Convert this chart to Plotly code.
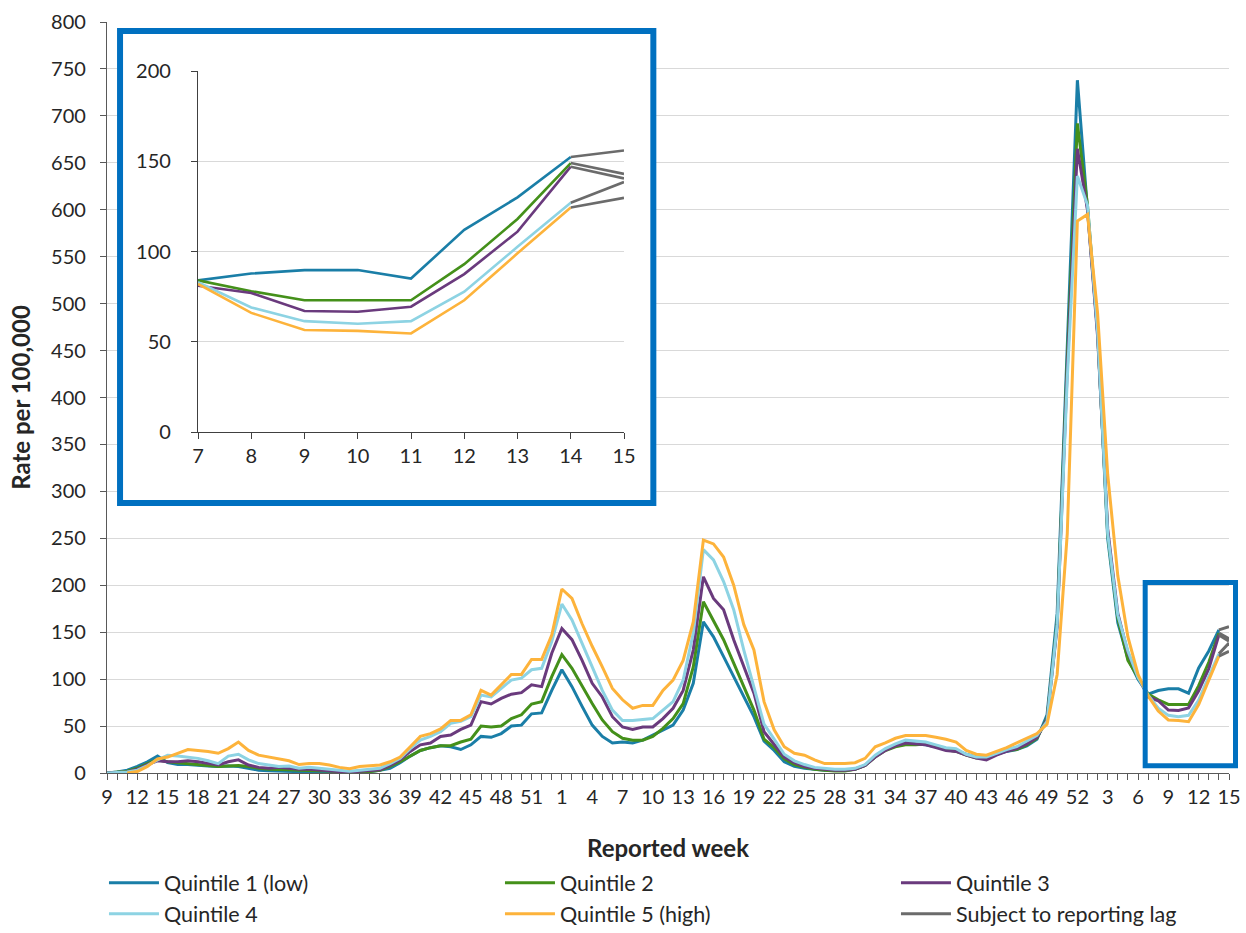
import plotly.graph_objects as go

# ---- categories: reported weeks (2020 wk9-53, 2021 wk1-52, 2022 wk1-15)
weeks = list(range(9, 54)) + list(range(1, 53)) + list(range(1, 16))

# ---- series (rate per 100,000)
q1 = [0, 1, 3, 7, 12, 18, 11, 9, 9, 8,
      7.5, 7, 7.5, 7, 5, 3, 2.5, 2, 2, 1.5,
      1, 1, 0.5, 0, 0.5, 1, 1.5, 3, 5, 11,
      18, 24, 27, 29, 28, 25, 30, 39, 38, 42,
      50, 51, 63, 64, 88, 110, 92, 71, 51, 39,
      32, 33, 32, 35, 40.5, 46, 51, 67, 95.5, 161,
      145, 124, 103, 81, 60, 34, 24, 12, 7, 5,
      4, 3, 3, 3, 4, 8, 18, 25, 29, 33,
      31, 30, 28, 25, 24, 20, 17, 16, 20, 23,
      25, 29, 36, 62, 170, 460, 738, 600, 470, 250,
      160, 122, 100, 84, 87.8, 89.7, 89.7, 85, 112, 130,
      152.4, None]
q2 = [0, 1, 2, 5, 10, 14, 12, 11, 10, 9,
      8, 7, 7.5, 8, 7, 5, 4, 4, 3.5, 3,
      3, 2.5, 2, 1, 0.7, 1, 1.5, 3, 7, 12,
      18, 24, 27, 29, 29, 33, 36, 50, 49, 50,
      58, 62, 73.5, 76, 102.6, 126, 111.5, 92, 74, 56.5,
      44, 37, 35, 35, 39, 47.6, 58, 74, 113, 182.5,
      163, 142, 117, 92, 67, 36, 27, 15, 9, 6,
      4, 3, 2, 2, 4, 8, 17, 24, 28, 30,
      30, 31, 28, 25, 23, 19, 16, 16, 20, 24,
      25, 30, 37, 58, 160, 440, 692, 605, 470, 255,
      165, 120, 102, 84, 78, 73, 73, 73, 93, 118,
      149, None]
q3 = [0, 0.5, 1, 4, 9, 13, 12, 12, 13, 12,
      10, 8.5, 12, 14, 8.5, 6, 5, 6, 5, 4,
      4, 3, 2.5, 1.5, 1, 2, 2.5, 3.5, 8, 14,
      23, 30, 32, 39, 40.5, 46.5, 51, 76, 73.5, 79.5,
      84, 85.6, 94, 92, 127.5, 154, 142, 120, 95.5, 81,
      60, 49, 46.5, 49, 49, 58, 69, 88, 131, 209,
      186, 174, 142, 113, 85, 44, 30, 17, 11, 7,
      5, 4, 3, 3, 4, 8, 17, 24, 29, 32,
      31, 30, 27, 24, 23, 19, 16, 14, 19, 23,
      26, 31, 38, 57, 156, 430, 665, 600, 465, 260,
      170, 128, 103, 81, 77, 67, 66.6, 69.4, 87.5, 111,
      147, None]
q4 = [0, 0.5, 1, 3, 8, 14, 19, 18, 17, 15.6,
      13, 10, 18, 20, 14, 10, 8.5, 7, 7.5, 5,
      6, 5, 4, 2.5, 2, 3, 4, 5, 10, 15.6,
      26, 35, 39, 44, 53, 55, 60, 83, 81, 90,
      99, 101, 110, 111.5, 140, 180, 163, 138, 113, 88,
      67, 56, 56, 57, 58, 67, 76, 99, 149, 238,
      227, 204, 174, 131, 92, 52, 36, 20, 13, 9,
      6, 5, 4, 4, 5, 9, 19, 26, 31, 35,
      34, 33, 30, 27, 26, 20, 17, 17, 21, 25,
      28, 34, 40, 55, 158, 420, 636, 605, 470, 255,
      168, 130, 102, 83, 69, 61.4, 60, 61.4, 77.7, 102.6,
      127, None]
q5 = [None, None, 0, 1.5, 7, 15, 17, 21, 25, 24,
      23, 21, 26, 33, 24, 19, 17, 15, 13, 9,
      10, 10, 8.5, 6, 4.5, 7, 8, 8.5, 12, 17,
      28, 39, 42, 47, 56, 56, 62, 88, 83, 94,
      105, 105, 121, 121, 147, 196, 186, 159, 135, 113,
      90, 78, 69, 72, 72, 88, 99, 120, 161, 248,
      244, 230, 200, 158, 131, 76, 46, 28, 21, 19,
      14, 10, 10, 10, 11, 15.6, 28, 32, 37, 40,
      40, 40, 38, 36, 33, 24, 20, 19, 23, 27,
      32, 37, 42, 52, 105, 255, 588, 595, 490, 318,
      210, 145, 105, 82, 66, 56.5, 56, 54.6, 73, 99,
      124.4, None]
# last two weeks (subject to reporting lag): [week 14, week 15] per quintile
lag_q1 = [152.4, 156]
lag_q2 = [149, 143]
lag_q3 = [147, 140.5]
lag_q4 = [127, 138.5]
lag_q5 = [124.4, 129.7]

names = ["Quintile 1 (low)", "Quintile 2", "Quintile 3", "Quintile 4", "Quintile 5 (high)"]
lag_name = "Subject to reporting lag"

assert all(len(s) == len(weeks) for s in (q1, q2, q3, q4, q5))

colors = ["#1A7EA7", "#44901A", "#6A3A7D", "#8DD3E3", "#FDB33B"]
lag_color = "#6B6B6B"
box_color = "#0070C0"
FONT = "Lato, 'Open Sans', sans-serif"
TXT = "#262626"

series = [q1, q2, q3, q4, q5]
lags = [lag_q1, lag_q2, lag_q3, lag_q4, lag_q5]
n = len(weeks)
idx = list(range(n))

# legend column widths (px): columns 1-2 wide, column 3 narrower
leg_w = [331, 331, 270, 331, 331, 270]

fig = go.Figure()

# main chart lines
for k, (s, nm, c) in enumerate(zip(series, names, colors)):
    fig.add_trace(go.Scatter(x=idx, y=s, mode="lines", name=nm,
                             line=dict(color=c, width=3), connectgaps=False,
                             legendwidth=leg_w[k], xaxis="x", yaxis="y"))
lx, ly = [], []
for lg in lags:
    lx += [n - 2, n - 1, None]
    ly += [lg[0], lg[1], None]
fig.add_trace(go.Scatter(x=lx, y=ly, mode="lines", name=lag_name,
                         line=dict(color=lag_color, width=3), legendwidth=leg_w[5],
                         xaxis="x", yaxis="y"))

# inset: weeks 7-15 of 2022
start = n - 9  # week 7 of 2022
inset_x = weeks[start:n - 1]
for s, nm, c in zip(series, names, colors):
    fig.add_trace(go.Scatter(x=inset_x, y=s[start:n - 1], mode="lines", name=nm,
                             line=dict(color=c, width=2.6), showlegend=False,
                             xaxis="x2", yaxis="y2"))
ix, iy = [], []
for lg in lags:
    ix += [weeks[n - 2], weeks[n - 1], None]
    iy += [lg[0], lg[1], None]
fig.add_trace(go.Scatter(x=ix, y=iy, mode="lines", name=lag_name, showlegend=False,
                         line=dict(color=lag_color, width=2.6), xaxis="x2", yaxis="y2"))

tickvals = idx[::3]
ticktext = [str(weeks[i]) for i in tickvals]

axis_line = "#595959"
TICKF = dict(size=20, family=FONT, color=TXT)
H = 950
fig.update_layout(
    width=1246, height=H,
    margin=dict(l=107, r=17, t=22, b=H - 773),
    paper_bgcolor="white", plot_bgcolor="white",
    font=dict(family=FONT, size=20, color=TXT),
    xaxis=dict(domain=[0, 1], range=[0, n - 1], tickmode="array", tickvals=tickvals,
               ticktext=ticktext, tickangle=0, ticks="outside", ticklen=6,
               tickcolor=axis_line, showline=True, linecolor=axis_line, linewidth=1.3,
               showgrid=False, zeroline=False, tickfont=TICKF,
               minor=dict(tickmode="linear", tick0=0, dtick=1, ticks="outside",
                          ticklen=6, tickcolor=axis_line, showgrid=False),
               title=dict(text="<b>Reported week</b>", standoff=33,
                          font=dict(size=24, family=FONT, color=TXT)),
               automargin=False, anchor="y", fixedrange=True),
    yaxis=dict(domain=[0, 1], range=[0, 800], tickmode="linear", tick0=0, dtick=50,
               ticks="outside", ticklen=6, tickcolor=axis_line, showline=True,
               linecolor=axis_line, linewidth=1.3, showgrid=True, gridcolor="#D9D9D9",
               gridwidth=1, zeroline=False, ticklabelstandoff=10, tickfont=TICKF,
               title=dict(text="<b>Rate per 100,000</b>", standoff=13,
                          font=dict(size=24, family=FONT, color=TXT)),
               automargin=False, anchor="x", fixedrange=True),
    xaxis2=dict(domain=[(198 - 107) / 1122, (624 - 107) / 1122], range=[7, 15],
                tickmode="linear", tick0=7, dtick=1, ticks="outside", ticklen=6,
                tickcolor="#404040", showline=True, linecolor="#404040", linewidth=1.3,
                showgrid=False, zeroline=False, anchor="y2", tickangle=0, tickfont=TICKF,
                automargin=False, fixedrange=True),
    yaxis2=dict(domain=[(773 - 432) / 751, (773 - 71) / 751], range=[0, 200],
                tickmode="linear", tick0=0, dtick=50, ticks="outside", ticklen=6,
                tickcolor="#404040", showline=True, linecolor="#404040", linewidth=1.3,
                showgrid=True, gridcolor="#D9D9D9", zeroline=False, anchor="x2",
                ticklabelstandoff=16, tickfont=TICKF, automargin=False, fixedrange=True),
    legend=dict(orientation="h", x=-0.0027, xanchor="left", y=-0.119, yanchor="top",
                itemwidth=50, font=dict(size=21.5, family=FONT, color=TXT),
                tracegroupgap=0, bgcolor="rgba(0,0,0,0)"),
    showlegend=True,
)

# inset frame (white-filled, above main gridlines, below traces)
fig.add_shape(type="rect", xref="x", yref="y", x0=1.29, x1=54.05, y0=287.6, y1=790.4,
              line=dict(color=box_color, width=6), fillcolor="white", layer="between")
# small highlight box around weeks 7-15 of 2022
fig.add_shape(type="rect", xref="paper", yref="paper", x0=0.9253, x1=1.0058,
              y0=0.0096, y1=0.2537, line=dict(color=box_color, width=5),
              fillcolor="rgba(0,0,0,0)", layer="above")

fig.write_html("out.html", config={"displayModeBar": False},
               post_script="document.body.style.margin='0';document.body.style.overflow='hidden';")
